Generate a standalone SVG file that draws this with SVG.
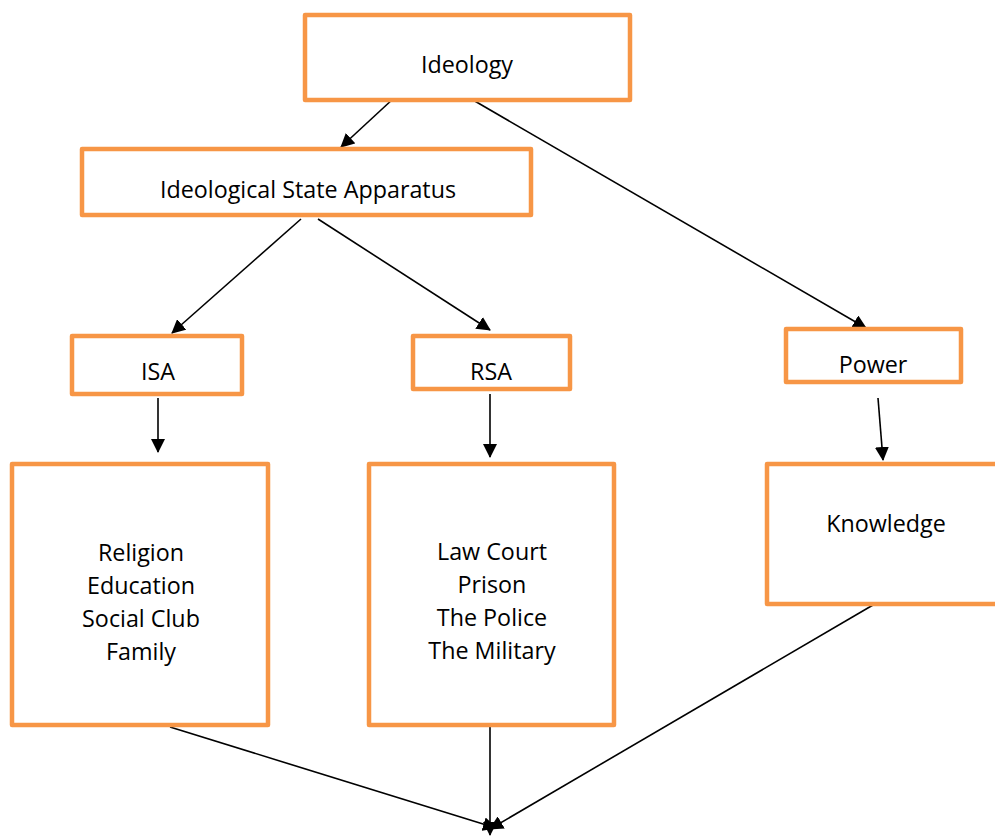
<svg xmlns="http://www.w3.org/2000/svg" width="995" height="837" viewBox="0 0 995 837">
<style>
.box{fill:#fff;stroke:#F79646;stroke-width:4.5;stroke-linejoin:round}
.t{font-family:"Open Sans","Noto Sans",sans-serif;font-size:23.3px;fill:#000;text-anchor:middle}
.c{stroke:#000;stroke-width:1.6;fill:none;marker-end:url(#ah)}
</style>
<defs>
<marker id="ah" viewBox="0 0 14 14" refX="13" refY="7" markerWidth="14" markerHeight="14" markerUnits="userSpaceOnUse" orient="auto">
<path d="M0,0 L14,7 L0,14 z" fill="#000"/>
</marker>
</defs>
<g id="connectors">
<line class="c" x1="394" y1="98" x2="341" y2="147"/>
<line class="c" x1="473" y1="100" x2="866" y2="328"/>
<line class="c" x1="301" y1="219" x2="172" y2="333"/>
<line class="c" x1="318" y1="219" x2="490" y2="330"/>
<line class="c" x1="158" y1="398" x2="158" y2="452"/>
<line class="c" x1="490" y1="394" x2="490" y2="457"/>
<line class="c" x1="878" y1="398" x2="883" y2="460"/>
<line class="c" x1="170" y1="727" x2="496" y2="828"/>
<line class="c" x1="490" y1="727" x2="490" y2="835"/>
<line class="c" x1="873" y1="605" x2="490" y2="829"/>
</g>
<g id="ideology"><rect class="box" x="305" y="15" width="325" height="85"/><text class="t" x="467" y="73">Ideology</text></g>
<g id="isa-apparatus"><rect class="box" x="82" y="149" width="449" height="66"/><text class="t" x="308" y="198">Ideological State Apparatus</text></g>
<g id="isa"><rect class="box" x="72" y="336" width="170" height="58"/><text class="t" x="158" y="380">ISA</text></g>
<g id="rsa"><rect class="box" x="413" y="336" width="157" height="53"/><text class="t" x="491" y="380">RSA</text></g>
<g id="power"><rect class="box" x="786" y="329" width="175" height="53"/><text class="t" x="873" y="373">Power</text></g>
<g id="isa-list"><rect class="box" x="12" y="464" width="256" height="261"/>
<text class="t" x="141" y="561">Religion</text><text class="t" x="141" y="594">Education</text><text class="t" x="141" y="627">Social Club</text><text class="t" x="141" y="660">Family</text></g>
<g id="rsa-list"><rect class="box" x="369" y="464" width="245" height="261"/>
<text class="t" x="492" y="560">Law Court</text><text class="t" x="492" y="593">Prison</text><text class="t" x="492" y="626">The Police</text><text class="t" x="492" y="659">The Military</text></g>
<g id="knowledge"><rect class="box" x="767" y="464" width="240" height="140"/><text class="t" x="886" y="532">Knowledge</text></g>
</svg>
